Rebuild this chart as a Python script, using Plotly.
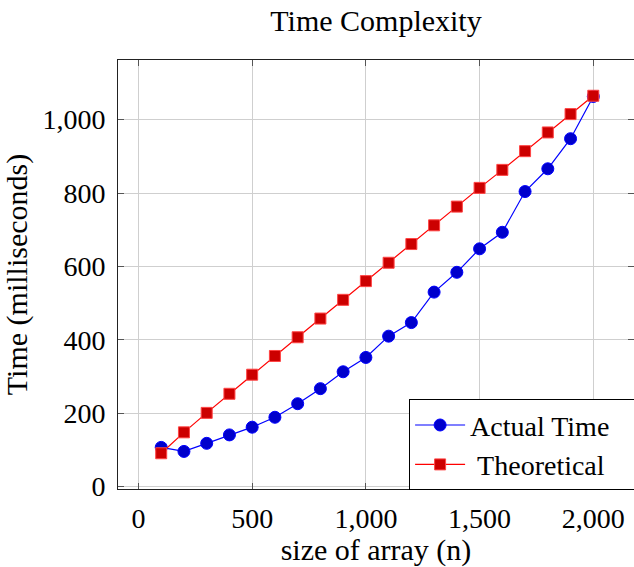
import plotly.graph_objects as go

n_values = [100, 200, 300, 400, 500, 600, 700, 800, 900, 1000,
            1100, 1200, 1300, 1400, 1500, 1600, 1700, 1800, 1900, 2000]
actual_time = [107, 96, 118, 141, 162, 189, 226, 267, 313, 352,
               410, 447, 530, 584, 648, 693, 804, 866, 948, 1063]
theoretical = [91, 148, 201, 253, 305, 356, 407, 458, 509, 560,
               610, 661, 712, 763, 814, 863, 914, 965, 1015, 1065]
series_names = ["Actual Time", "Theoretical"]

x_ticks = [0, 500, 1000, 1500, 2000]
x_tick_labels = ["0", "500", "1,000", "1,500", "2,000"]
y_ticks = [0, 200, 400, 600, 800, 1000]
y_tick_labels = ["0", "200", "400", "600", "800", "1,000"]

FONT = "Liberation Serif"
FS_TICK = 28
FS_TEXT = 30
PAD = "\u00a0" * 3

fig = go.Figure()
fig.add_trace(go.Scatter(
    x=n_values, y=actual_time, mode="lines+markers", name=series_names[0] + PAD,
    line=dict(color="#0000ff", width=1.2),
    marker=dict(symbol="circle", size=12, color="#0000cc",
                line=dict(color="#0000ff", width=1)),
))
fig.add_trace(go.Scatter(
    x=n_values, y=theoretical, mode="lines+markers", name="\u00a0" + series_names[1],
    line=dict(color="#ff0000", width=1.2),
    marker=dict(symbol="square", size=11, color="#cc0000",
                line=dict(color="#ff4444", width=1)),
))

axis_common = dict(
    showgrid=True, gridcolor="#cfcfcf", gridwidth=1,
    ticks="inside", ticklen=6, tickcolor="#555555", tickwidth=1,
    zeroline=False, automargin=False,
    tickfont=dict(family=FONT, size=FS_TICK, color="black"),
)

fig.update_xaxes(
    range=[-90, 2179], tickvals=x_ticks, ticktext=x_tick_labels,
    showline=True, linecolor="#222222", linewidth=1, mirror="ticks",
    title=dict(text="size of array (n)", font=dict(family=FONT, size=FS_TEXT, color="black")),
    ticklabelstandoff=4,
    **axis_common,
)
fig.update_yaxes(
    range=[-6.4, 1162.4], tickvals=y_ticks, ticktext=y_tick_labels,
    showline=True, linecolor="#222222", linewidth=1, mirror="ticks",
    title=dict(text="Time (milliseconds)", font=dict(family=FONT, size=FS_TEXT, color="black")),
    ticklabelstandoff=6,
    **axis_common,
)

fig.update_layout(
    width=634, height=567,
    margin=dict(l=118, r=0, t=60, b=78, autoexpand=False),
    paper_bgcolor="white", plot_bgcolor="white",
    title=dict(text="Time Complexity", x=0.5, xref="paper", xanchor="center",
               y=1 - 20 / 567, yref="container", yanchor="middle",
               font=dict(family=FONT, size=FS_TEXT, color="black")),
    legend=dict(x=1.006, xanchor="right", y=-0.003, yanchor="bottom",
                bgcolor="white", bordercolor="black", borderwidth=1,
                font=dict(family=FONT, size=28, color="black"),
                itemwidth=50, tracegroupgap=0),
    showlegend=True,
)

fig.write_html("out.html", config={"displayModeBar": False},
               post_script="document.body.style.margin='0';document.body.style.overflow='hidden';")
